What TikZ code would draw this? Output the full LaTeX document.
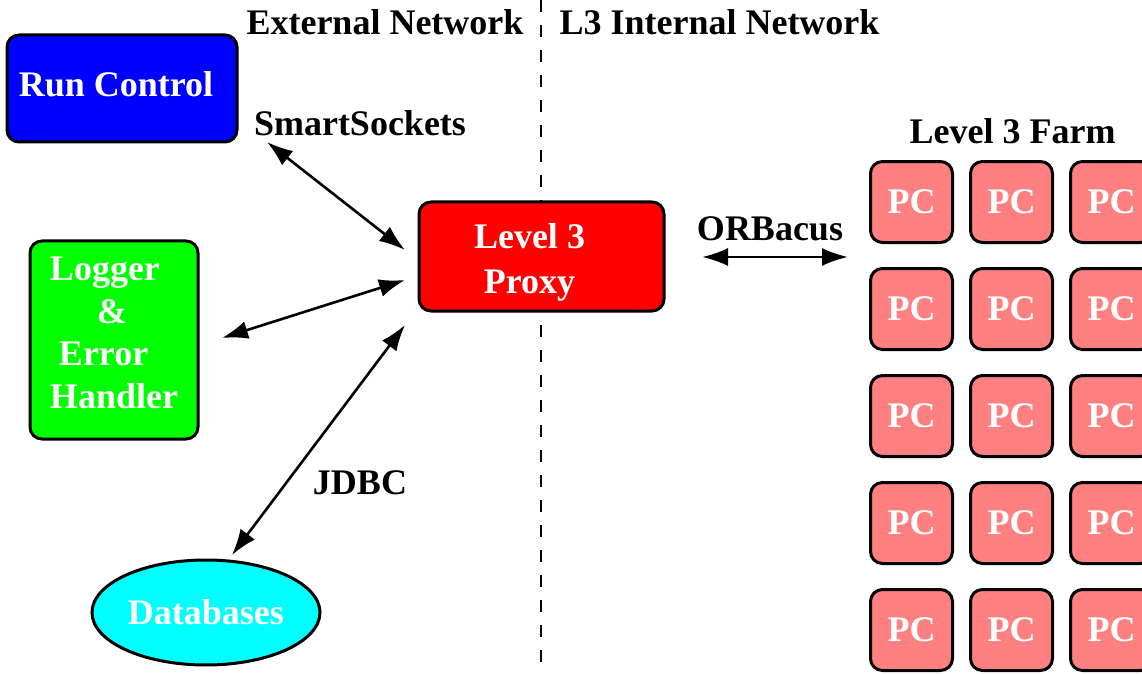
\documentclass[tikz,border=0pt]{standalone}
\usepackage{fontspec}
\setmainfont{Liberation Serif}
\usepackage{tikz}
\usetikzlibrary{arrows.meta}
\usetikzlibrary{shapes.geometric}
\definecolor{rcblue}{RGB}{0,0,255}
\definecolor{loggreen}{RGB}{0,255,0}
\definecolor{proxyred}{RGB}{255,0,0}
\definecolor{dbcyan}{RGB}{0,255,255}
\definecolor{pcsalmon}{RGB}{255,128,128}
\tikzset{boxtext/.style={text=white,font=\fontsize{18}{21.3}\selectfont\bfseries,align=center}}
\tikzset{basic/.style={draw,line width=1.5pt,rounded corners=6pt,inner sep=0pt}}
\tikzset{pcbox/.style={basic,boxtext,fill=pcsalmon,minimum width=41pt,minimum height=40.5pt}}
\tikzset{netlabel/.style={font=\fontsize{18}{21.3}\selectfont\bfseries}}

\begin{document}
\begin{tikzpicture}[x=0.5pt,y=-0.5pt,>={Latex[length=13pt,width=9pt]},line width=1.3pt]
  \useasboundingbox (0,0) rectangle (1142,674);

  % network boundary (drawn first, the proxy sits on top of it)
  \coordinate (netTop) at (541,0);
  \coordinate (netBot) at (541,674);
  \draw[dash pattern=on 6pt off 6.5pt] (netTop) -- (netBot);

  \node (extnet) [netlabel] at (385,22)    {External Network};
  \node (intnet) [netlabel] at (719.5,22)  {L3 Internal Network};

  % external side
  \node (runctrl) [basic,fill=rcblue,minimum width=115pt,minimum height=53.5pt,
                   label={[boxtext,xshift=-3pt,yshift=2pt]center:Run Control}]
        at (122,88.5) {};
  \node (logger)  [basic,fill=loggreen,minimum width=84pt,minimum height=99pt,
                   label={[boxtext,align=left,yshift=3.5pt]center:Logger\\\hspace*{23.5pt}\&\\\hspace*{4.5pt}Error\\Handler}]
        at (114,340) {};
  \node (db) [ellipse,draw,line width=1.5pt,fill=dbcyan,boxtext,inner sep=0pt,
              minimum width=114pt,minimum height=52.5pt] at (206,612.5) {Databases};

  % the proxy
  \node (proxy) [basic,fill=proxyred,minimum width=122.5pt,minimum height=54.5pt,
                 label={[boxtext,font=\fontsize{18}{22.5}\selectfont\bfseries,
                         xshift=-6pt,yshift=-3pt]center:Level 3\\Proxy}]
        at (541.5,256.5) {};

  \node (smartlbl) [netlabel] at (360,123)    {SmartSockets};
  \node (jdbclbl)  [netlabel] at (360,483)    {JDBC};
  \node (farmlbl)  [netlabel] at (1012.5,131) {Level 3 Farm};

  % The farm nodes are placed using a matrix:
  \matrix (farm) [anchor=north west,inner sep=0pt,outer sep=0pt,
                  row sep=11.5pt,column sep=7.5pt] at (869,160) {
    \node (pc11) [pcbox] {PC}; & \node (pc12) [pcbox] {PC}; & \node (pc13) [pcbox] {PC}; \\
    \node (pc21) [pcbox] {PC}; & \node (pc22) [pcbox] {PC}; & \node (pc23) [pcbox] {PC}; \\
    \node (pc31) [pcbox] {PC}; & \node (pc32) [pcbox] {PC}; & \node (pc33) [pcbox] {PC}; \\
    \node (pc41) [pcbox] {PC}; & \node (pc42) [pcbox] {PC}; & \node (pc43) [pcbox] {PC}; \\
    \node (pc51) [pcbox] {PC}; & \node (pc52) [pcbox] {PC}; & \node (pc53) [pcbox] {PC}; \\
  };

  % arrow ends
  \coordinate (ss-a)   at (267,142);
  \coordinate (ss-b)   at (405,250);
  \coordinate (log-a)  at (222,338);
  \coordinate (log-b)  at (405,280);
  \coordinate (jdbc-a) at (405,325);
  \coordinate (jdbc-b) at (232,555);
  \coordinate (orb-a)  at (702,257);
  \coordinate (orb-b)  at (848,257);

  % connections
  \path[<->]
    (ss-a) edge (ss-b)
    (log-a) edge (log-b)
    (jdbc-a) edge (jdbc-b)
    (orb-a) edge node[netlabel,above=4pt,xshift=-2.5pt]{ORBacus} (orb-b)
    ;
\end{tikzpicture}
\end{document}
